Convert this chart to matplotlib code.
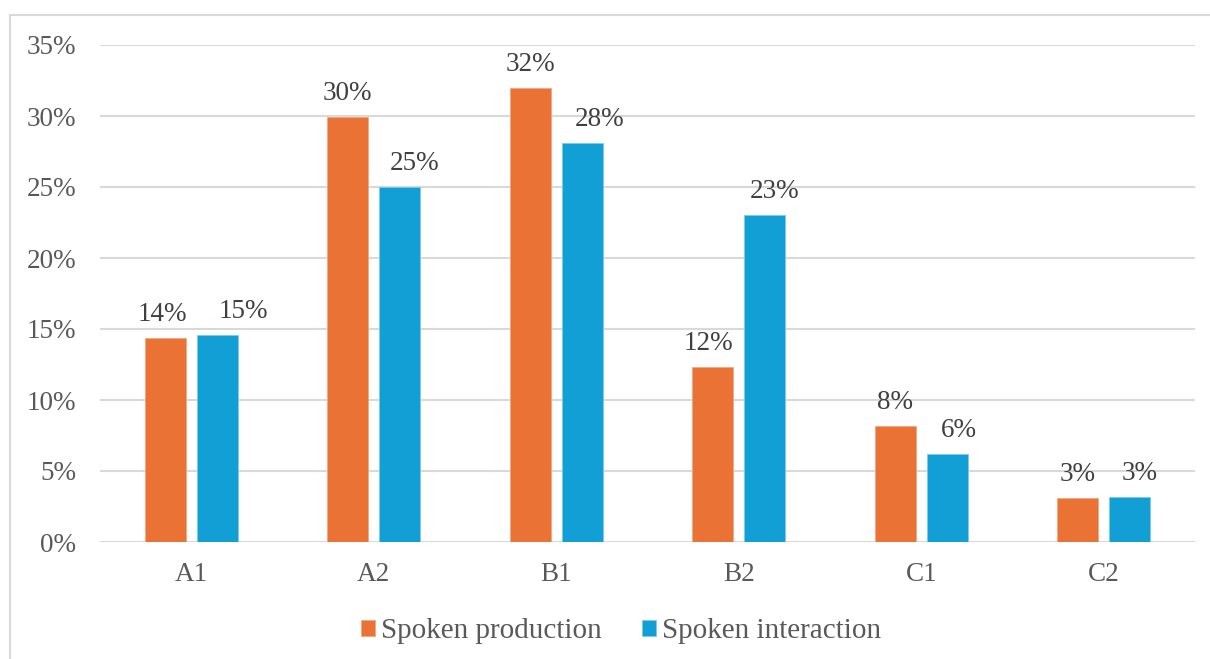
import matplotlib.pyplot as plt
from matplotlib.patches import Rectangle
import numpy as np

levels = ["A1", "A2", "B1", "B2", "C1", "C2"]
spoken_production = [14.4, 29.9, 32.0, 12.3, 8.2, 3.1]
spoken_interaction = [14.6, 25.0, 28.1, 23.0, 6.2, 3.2]
series_names = ["Spoken production", "Spoken interaction"]
y_ticks = [0, 5, 10, 15, 20, 25, 30, 35]

# horizontal nudges (pixels) for the value labels, as laid out by the spreadsheet
nudge_production = [-3, 0, 0, -4, 0, 0]
nudge_interaction = [26, 15, 17, 10, 12, 10]

ORANGE = "#EA7234"
BLUE = "#129FD6"
GRID = "#D9D9D9"

plt.rcParams["font.family"] = ["Liberation Serif", "DejaVu Serif"]

DPI = 100
fig = plt.figure(figsize=(12.10, 6.59), dpi=DPI)
W, H = 1210, 659

# chart border (only top and left edges fall inside the image)
fig.patches.append(Rectangle((10 / W, -0.05), 1.1, 1 - 15 / H + 0.05,
                             transform=fig.transFigure, fill=False,
                             edgecolor=GRID, linewidth=1.5))

ax = fig.add_axes([100 / W, 1 - 542 / H, (1195 - 100) / W, (542 - 45) / H])

x = np.arange(len(levels))
width = 0.225
off = 0.143
b1 = ax.bar(x - off, spoken_production, width, color=ORANGE, label=series_names[0],
            edgecolor="#F3A77F", linewidth=0.6, zorder=3)
b2 = ax.bar(x + off, spoken_interaction, width, color=BLUE, label=series_names[1],
            edgecolor="#7CCBEA", linewidth=0.6, zorder=3)

px = 72 / DPI
for xi, v, n in zip(x - off, spoken_production, nudge_production):
    ax.annotate(f"{v:.0f}%", (xi, v), xytext=(n * px, 17 * px), textcoords="offset points",
                ha="center", va="baseline", fontsize=19.5, color="#404040")
for xi, v, n in zip(x + off, spoken_interaction, nudge_interaction):
    ax.annotate(f"{v:.0f}%", (xi, v), xytext=(n * px, 17 * px), textcoords="offset points",
                ha="center", va="baseline", fontsize=19.5, color="#404040")

ax.set_xlim(-0.5, len(levels) - 0.5)
ax.set_ylim(0, 35)
ax.set_yticks(y_ticks)
ax.set_yticklabels([f"{t}%" for t in y_ticks])
ax.set_xticks(x)
ax.set_xticklabels(levels)
ax.tick_params(axis="both", length=0, labelsize=19.5, labelcolor="#595959")
ax.tick_params(axis="y", pad=24 * px)
ax.tick_params(axis="x", pad=20 * px)
for s in ax.spines.values():
    s.set_visible(False)
ax.yaxis.grid(True, color=GRID, linewidth=1.5, zorder=0)
ax.set_axisbelow(True)

fig.legend(handles=[b1, b2], loc="center", bbox_to_anchor=(621 / W, 1 - 631 / H),
           ncol=2, frameon=False, fontsize=21, labelcolor="#595959",
           handlelength=0.48, handleheight=0.48, handletextpad=0.22, columnspacing=1.35)

fig.savefig("out.png", dpi=DPI)
